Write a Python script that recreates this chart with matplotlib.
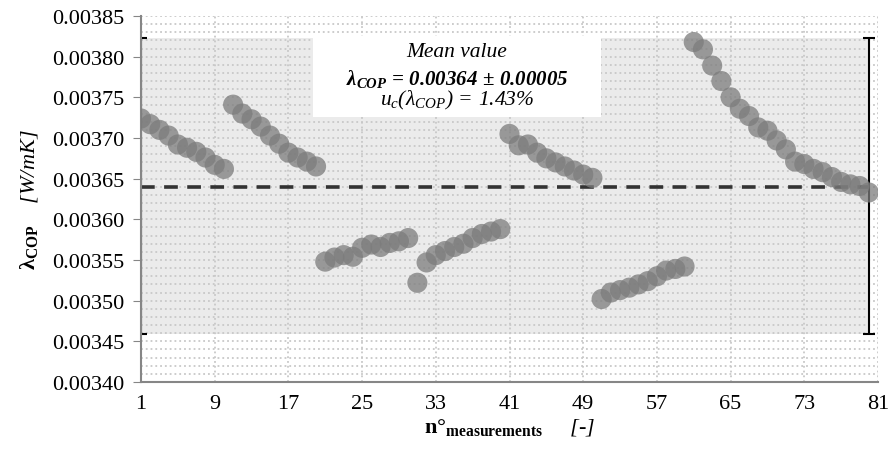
import matplotlib.pyplot as plt
import numpy as np
from matplotlib.patches import Rectangle
from matplotlib.ticker import MultipleLocator

plt.rcParams['font.family'] = ['Liberation Serif', 'DejaVu Serif']
plt.rcParams['mathtext.fontset'] = 'custom'
plt.rcParams['mathtext.rm'] = 'Liberation Serif:italic'
plt.rcParams['mathtext.it'] = 'Liberation Serif:italic'
plt.rcParams['mathtext.bf'] = 'Liberation Serif:bold'
plt.rcParams['mathtext.bfit'] = 'Liberation Serif:bold:italic'

# measured conductivity, 80 measurements
lam_g1 = [0.003724, 0.003717, 0.003710, 0.003703, 0.003692, 0.003688, 0.003683, 0.003676, 0.003667, 0.003662]
lam_g2 = [0.003741, 0.003730, 0.003723, 0.003714, 0.003703, 0.003693, 0.003682, 0.003676, 0.003671, 0.003665]
lam_g3 = [0.003548, 0.003553, 0.003556, 0.003554, 0.003565, 0.003569, 0.003566, 0.003571, 0.003573, 0.003577]
lam_g4 = [0.003522, 0.003547, 0.003556, 0.003561, 0.003566, 0.003570, 0.003577, 0.003582, 0.003585, 0.003588]
lam_g5 = [0.003705, 0.003691, 0.003692, 0.003682, 0.003675, 0.003670, 0.003665, 0.003660, 0.003655, 0.003651]
lam_g6 = [0.003502, 0.003510, 0.003513, 0.003516, 0.003520, 0.003524, 0.003530, 0.003537, 0.003539, 0.003542]
lam_g7 = [0.003818, 0.003809, 0.003789, 0.003770, 0.003750, 0.003736, 0.003727, 0.003713, 0.003709, 0.003697,
          0.003686, 0.003671, 0.003668, 0.003662, 0.003658, 0.003652, 0.003646, 0.003643, 0.003641, 0.003633]
lam = lam_g1 + lam_g2 + lam_g3 + lam_g4 + lam_g5 + lam_g6 + lam_g7
n_meas = np.arange(1, len(lam) + 1)

mean_val = 0.00364
band_lo = 0.003459
band_hi = 0.003823
x_ticks = [1, 9, 17, 25, 33, 41, 49, 57, 65, 73, 81]

fig = plt.figure(figsize=(8.9, 4.56), dpi=100)
ax = fig.add_axes([141 / 890, 73 / 456, 737 / 890, 366 / 456])

ax.fill_between([1, n_meas[-1]], band_lo, band_hi, color='#ebebeb', lw=0, zorder=0.2)
ax.errorbar([1, n_meas[-1]], [mean_val, mean_val],
            yerr=[[mean_val - band_lo] * 2, [band_hi - mean_val] * 2],
            fmt='none', ecolor='black', elinewidth=1.5, capsize=4, capthick=1.5, zorder=2)
ax.plot([1, n_meas[-1]], [mean_val, mean_val], color='#333333', lw=2.6,
        dashes=(3.8, 2.6), zorder=2.5)
ax.scatter(n_meas, lam, s=210, color='#7c7c7c', alpha=0.75, edgecolors='none', zorder=3)

# white box with mean value
ax.add_patch(Rectangle((19.7, 0.003726), 31.2, 0.000099, facecolor='white',
                       edgecolor='none', zorder=1))
ax.text(35.3, 0.003806, 'Mean value', style='italic', fontsize=15.5,
        ha='center', va='center', zorder=4)
ax.text(35.3, 0.003774, r'$\mathbfit{\lambda_{COP}\,=\,0.00364\,\pm\,0.00005}$', fontsize=15,
        ha='center', va='center', zorder=4)
ax.text(35.3, 0.003747, r'$u_c(\lambda_{COP})\,=\,1.43\%$', fontsize=15.5,
        ha='center', va='center', zorder=4)

ax.set_xlim(1, 81)
ax.set_ylim(0.00340, 0.00385)
ax.set_xticks(x_ticks)
ax.yaxis.set_major_locator(MultipleLocator(0.00005))
ax.yaxis.set_minor_locator(MultipleLocator(0.00001))
ax.yaxis.set_major_formatter(plt.FormatStrFormatter('%.5f'))
ax.tick_params(axis='y', which='major', length=6, color='#868686', labelsize=16, pad=6)
ax.tick_params(axis='y', which='minor', length=0)
ax.tick_params(axis='x', length=0, labelsize=16, pad=9)

ax.set_axisbelow(True)
ax.grid(True, which='both', axis='y', color='#c8c8c8', ls=':', lw=1.3, zorder=0.5)
ax.grid(True, which='major', axis='x', color='#c8c8c8', ls=':', lw=1.3, zorder=0.5)

for s in ['top', 'right']:
    ax.spines[s].set_visible(False)
for s in ['left', 'bottom']:
    ax.spines[s].set_color('#868686')
    ax.spines[s].set_linewidth(1.5)

ax.set_ylabel(r'$\mathbf{\lambda_{COP}}$    [W/mK]', fontsize=16, style='italic', labelpad=9)
ax.set_xlabel(r'$\mathbf{n°_{measurements}}$     [-]', fontsize=16, style='italic', labelpad=2)

fig.savefig('out.png', dpi=100)
